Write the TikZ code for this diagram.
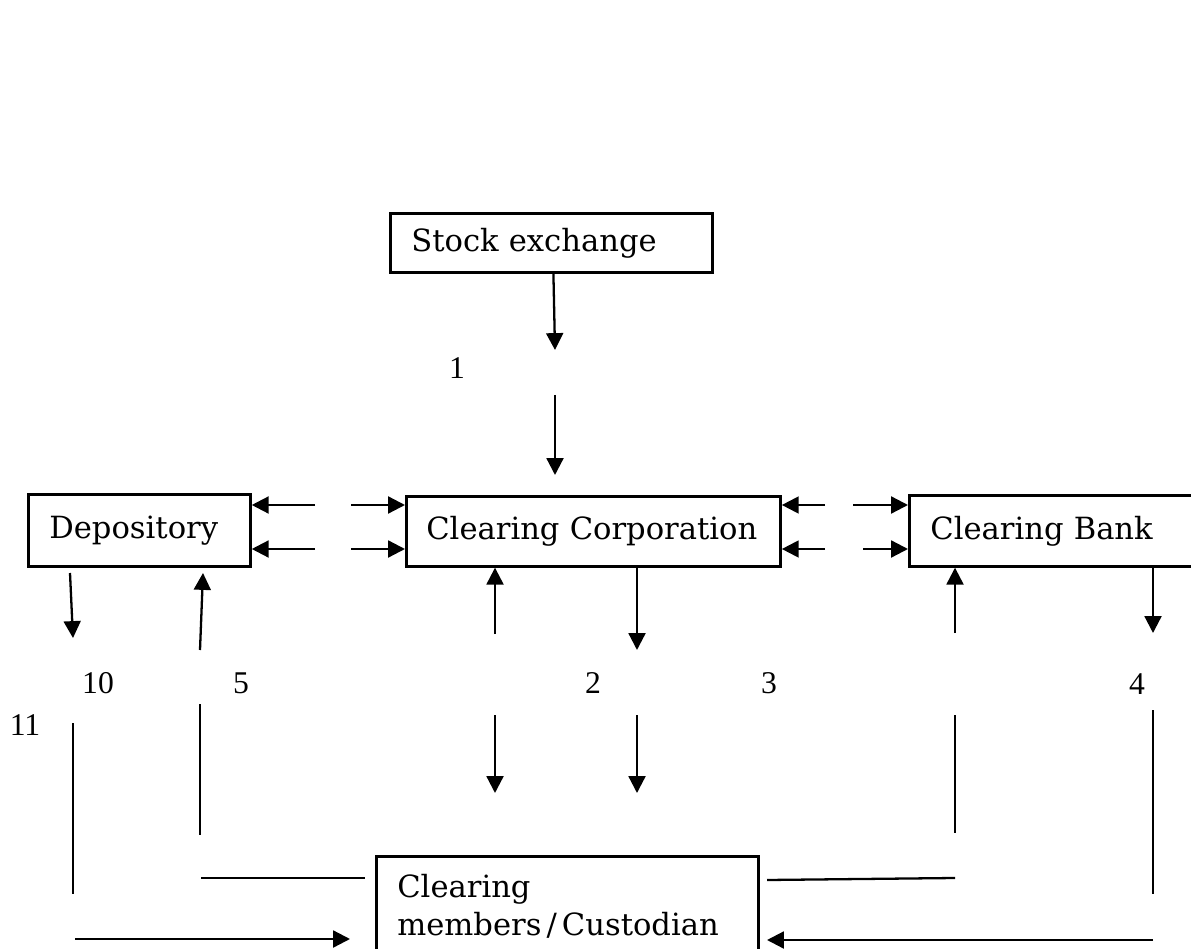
\documentclass[tikz,border=0pt]{standalone}
\usepackage{fontspec}
\setmainfont{DejaVu Serif}
\newfontfamily\numfont{Liberation Serif}
\usetikzlibrary{arrows.meta}

\begin{document}
\begin{tikzpicture}[x=0.01cm, y=-0.01cm,
    box/.style={draw=black, line width=0.75pt, anchor=north west, align=left,
      inner xsep=0.21cm, inner ysep=0pt, font=\fontsize{8.7}{10.8}\selectfont},
    flow/.style={-{Triangle[length=4.8pt,width=4.8pt]}, line width=0.65pt},
    wire/.style={line width=0.65pt},
    num/.style={font=\numfont\fontsize{9}{11}\selectfont, inner sep=0pt}]
    \path[use as bounding box, fill=white] (0,0) rectangle (1191,949);

    % boxes
    \node[box, text width=2.80cm, minimum height=0.59cm] (se) at (389,212) {Stock exchange};
    \node[box, text width=1.80cm, minimum height=0.72cm] (dep) at (27,493) {Depository};
    \node[box, text width=3.34cm, inner xsep=0.20cm, minimum height=0.70cm] (cc) at (405,495) {Clearing Corporation};
    \node[box, text width=2.58cm, minimum height=0.71cm] (cb) at (908,494) {Clearing Bank};
    \node[box, text width=3.40cm, inner ysep=0.18cm, text depth=1cm] (cm) at (375,855) {Clearing\\members\,/\,Custodian};

    % numbers
    \node[num] (n1) at (457,368) {1};
    \node[num] (n2) at (593,683) {2};
    \node[num] (n3) at (769,683) {3};
    \node[num] (n4) at (1137,684) {4};
    \node[num] (n5) at (241,683) {5};
    \node[num] (n10) at (98,683) {10};
    \node[num] (n11) at (25,725) {11};

    % free ends
    \coordinate (s1) at (555,350);
    \coordinate (s2) at (555,395);
    \coordinate (s3) at (555,475);
    \coordinate (dl1) at (315,505);
    \coordinate (dl2) at (315,549);
    \coordinate (dr1) at (351,505);
    \coordinate (dr2) at (351,549);
    \coordinate (bl1) at (825,505);
    \coordinate (bl2) at (825,549);
    \coordinate (br1) at (853,505);
    \coordinate (br2) at (863,549);
    \coordinate (d1) at (70,573);
    \coordinate (d2) at (73,638);
    \coordinate (d3) at (200,650);
    \coordinate (d4) at (203,573);
    \coordinate (c1) at (495,634);
    \coordinate (c2) at (637,650);
    \coordinate (c3) at (495,715);
    \coordinate (c4) at (495,793);
    \coordinate (c5) at (637,715);
    \coordinate (c6) at (637,793);
    \coordinate (b1) at (955,633);
    \coordinate (b2) at (1153,633);
    \coordinate (l1) at (73,723);
    \coordinate (l2) at (73,894);
    \coordinate (l3) at (200,704);
    \coordinate (l4) at (200,835);
    \coordinate (l5) at (201,878);
    \coordinate (l6) at (365,878);
    \coordinate (l7) at (75,939);
    \coordinate (l8) at (350,939);
    \coordinate (r1) at (955,715);
    \coordinate (r2) at (955,833);
    \coordinate (r3) at (1153,710);
    \coordinate (r4) at (1153,894);
    \coordinate (r5) at (767,880);
    \coordinate (r6) at (955,878);
    \coordinate (r7) at (1153,940);
    \coordinate (r8) at (767,940);

    % stock exchange to clearing corporation
    \draw[flow] ([xshift=0.02cm]se.south) -- (s1);
    \draw[flow] (s2) -- (s3);

    % side links
    \draw[flow] (dl1) -- (dl1 -| dep.east);
    \draw[flow] (dl2) -- (dl2 -| dep.east);
    \draw[flow] (dr1) -- (dr1 -| cc.west);
    \draw[flow] (dr2) -- (dr2 -| cc.west);
    \draw[flow] (bl1) -- (bl1 -| cc.east);
    \draw[flow] (bl2) -- (bl2 -| cc.east);
    \draw[flow] (br1) -- (br1 -| cb.west);
    \draw[flow] (br2) -- (br2 -| cb.west);

    % below the boxes
    \draw[flow] (d1) -- (d2);
    \draw[flow] (d3) -- (d4);
    \draw[flow] (c1) -- (c1 |- cc.south);
    \draw[flow] (c2 |- cc.south) -- (c2);
    \draw[flow] (c3) -- (c4);
    \draw[flow] (c5) -- (c6);
    \draw[flow] (b1) -- (b1 |- cb.south);
    \draw[flow] (b2 |- cb.south) -- (b2);

    % lines to clearing members
    \draw[wire] (l1) -- (l2);
    \draw[wire] (l3) -- (l4);
    \draw[wire] (l5) -- (l6);
    \draw[flow] (l7) -- (l8);
    \draw[wire] (r1) -- (r2);
    \draw[wire] (r3) -- (r4);
    \draw[wire] (r5) -- (r6);
    \draw[flow] (r7) -- (r8);
\end{tikzpicture}
\end{document}
